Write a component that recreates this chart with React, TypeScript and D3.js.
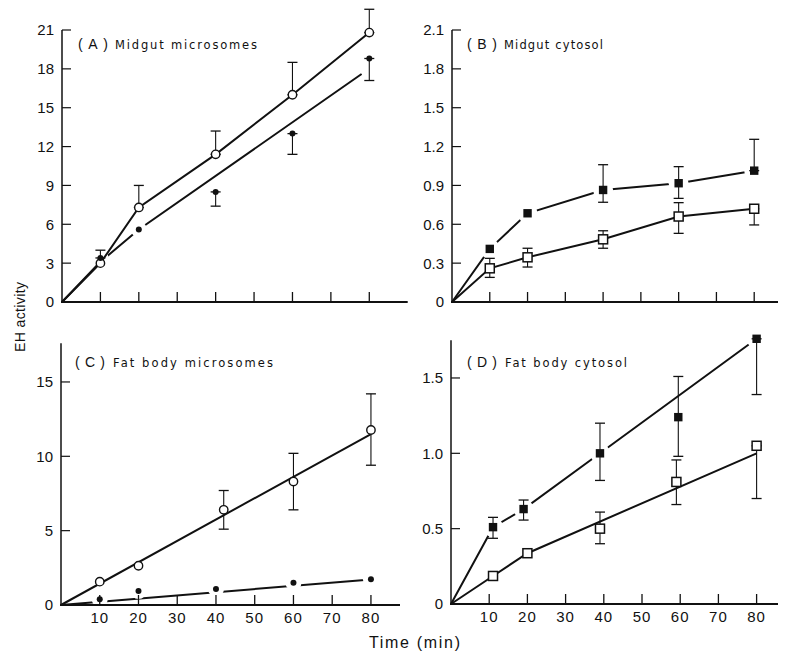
import React from 'react';
import * as d3 from 'd3';

type Pt = [number, number];

// ---------- data ----------
const xTickValues = [10, 20, 30, 40, 50, 60, 70, 80];

// (A) Midgut microsomes
const aTime = [10, 20, 40, 60, 80];
const aOpen = [3.0, 7.3, 11.4, 16.0, 20.8];
const aOpenLo = [3.0, 7.3, 11.4, 16.0, 20.8];
const aOpenHi = [3.0, 9.0, 13.2, 18.5, 22.6];
const aFilled = [3.4, 5.6, 8.5, 13.0, 18.8];
const aFilledLo = [3.4, 5.6, 7.4, 11.4, 17.1];
const aFilledHi = [4.0, 5.6, 8.5, 13.0, 18.8];
const aOpenFit: Pt[] = [[0, 0], [10, 3.0], [20, 7.3], [40, 11.4], [60, 16.0], [80, 20.8]];
const aFilledFit: Pt[] = [[0, 0], [10, 3.1], [20, 5.6], [78, 17.6]];
const aYTicks = [0, 3, 6, 9, 12, 15, 18, 21];

// (B) Midgut cytosol
const bTime = [10, 20, 40, 60, 80];
const bOpen = [0.26, 0.345, 0.484, 0.66, 0.72];
const bOpenLo = [0.19, 0.27, 0.415, 0.53, 0.595];
const bOpenHi = [0.337, 0.415, 0.55, 0.767, 0.72];
const bFilled = [0.41, 0.685, 0.865, 0.917, 1.014];
const bFilledLo = [0.41, 0.685, 0.77, 0.8, 1.014];
const bFilledHi = [0.41, 0.685, 1.06, 1.045, 1.256];
const bOpenFit: Pt[] = [[0, 0], [10, 0.26], [20, 0.345], [40, 0.484], [60, 0.66], [80, 0.72]];
const bFilledFit: Pt[] = [[0, 0], [10, 0.41], [20, 0.685], [40, 0.865], [60, 0.917], [80, 1.014]];
const bYTicks = [0, 0.3, 0.6, 0.9, 1.2, 1.5, 1.8, 2.1];

// (C) Fat body microsomes
const cOpenTime = [10, 20, 42, 60, 80];
const cOpen = [1.57, 2.64, 6.4, 8.3, 11.77];
const cOpenLo = [1.57, 2.64, 5.1, 6.4, 9.4];
const cOpenHi = [1.57, 2.64, 7.7, 10.2, 14.2];
const cFilledTime = [10, 20, 40, 60, 80];
const cFilled = [0.38, 0.94, 1.08, 1.5, 1.73];
const cOpenFit: Pt[] = [[0, 0], [80, 11.5]];
const cFilledFit: Pt[] = [[0, 0], [80, 1.72]];
const cYTicks = [0, 5, 10, 15];

// (D) Fat body cytosol
const dOpenTime = [11, 20, 39, 59, 80];
const dOpen = [0.186, 0.337, 0.5, 0.81, 1.05];
const dOpenLo = [0.186, 0.337, 0.4, 0.66, 0.7];
const dOpenHi = [0.186, 0.337, 0.61, 0.956, 1.05];
const dFilledTime = [11, 19, 39, 59.5, 80];
const dFilled = [0.51, 0.63, 1.0, 1.24, 1.76];
const dFilledLo = [0.436, 0.557, 0.82, 0.98, 1.39];
const dFilledHi = [0.575, 0.69, 1.2, 1.51, 1.76];
const dOpenFit: Pt[] = [[0, 0], [11, 0.186], [20, 0.337], [80, 1.0]];
const dFilledFit: Pt[] = [[0, 0], [11, 0.51], [19, 0.63], [39, 1.0], [80, 1.76]];
const dYTicks = [0, 0.5, 1.0, 1.5];

// ---------- panel options ----------
interface PanelOpts {
  id: string;
  letter: string;
  title: string;
  xDomain: number; xRange: [number, number];
  yDomain: number; yRange: [number, number];
  yTicks: number[];
  yFmt: (v: number) => string;
  topTick: boolean;
  xLabels: boolean;
  marker: 'circle' | 'square';
  openX: number[]; openY: number[]; openLo: number[]; openHi: number[];
  filledX: number[]; filledY: number[]; filledLo: number[]; filledHi: number[];
  openFit: Pt[]; filledFit: Pt[];
  letterX: number; textX: number; textLen: number; titleY: number;
}

const fmtInt = (v: number) => (v === 0 ? '0' : String(v));
const fmt1 = (v: number) => (v === 0 ? '0' : v.toFixed(1));

const panels: PanelOpts[] = [
  {
    id: 'A', letter: '(A)', title: 'Midgut microsomes',
    xDomain: 90, xRange: [62, 407.7], yDomain: 21, yRange: [302, 30],
    yTicks: aYTicks, yFmt: fmtInt, topTick: true, xLabels: false, marker: 'circle',
    openX: aTime, openY: aOpen, openLo: aOpenLo, openHi: aOpenHi,
    filledX: aTime, filledY: aFilled, filledLo: aFilledLo, filledHi: aFilledHi,
    openFit: aOpenFit, filledFit: aFilledFit,
    letterX: 78, textX: 115, textLen: 142, titleY: 49,
  },
  {
    id: 'B', letter: '(B)', title: 'Midgut cytosol',
    xDomain: 86.3, xRange: [452, 778], yDomain: 2.1, yRange: [302, 30],
    yTicks: bYTicks, yFmt: fmt1, topTick: true, xLabels: false, marker: 'square',
    openX: bTime, openY: bOpen, openLo: bOpenLo, openHi: bOpenHi,
    filledX: bTime, filledY: bFilled, filledLo: bFilledLo, filledHi: bFilledHi,
    openFit: bOpenFit, filledFit: bFilledFit,
    letterX: 467, textX: 504, textLen: 99, titleY: 49,
  },
  {
    id: 'C', letter: '(C)', title: 'Fat body microsomes',
    xDomain: 87.5, xRange: [61, 400], yDomain: 17.6, yRange: [605, 343.3],
    yTicks: cYTicks, yFmt: fmtInt, topTick: false, xLabels: true, marker: 'circle',
    openX: cOpenTime, openY: cOpen, openLo: cOpenLo, openHi: cOpenHi,
    filledX: cFilledTime, filledY: cFilled, filledLo: cFilled, filledHi: cFilled,
    openFit: cOpenFit, filledFit: cFilledFit,
    letterX: 75, textX: 113, textLen: 160, titleY: 367,
  },
  {
    id: 'D', letter: '(D)', title: 'Fat body cytosol',
    xDomain: 85.6, xRange: [451, 778], yDomain: 1.75, yRange: [604, 340.3],
    yTicks: dYTicks, yFmt: fmt1, topTick: false, xLabels: true, marker: 'square',
    openX: dOpenTime, openY: dOpen, openLo: dOpenLo, openHi: dOpenHi,
    filledX: dFilledTime, filledY: dFilled, filledLo: dFilledLo, filledHi: dFilledHi,
    openFit: dOpenFit, filledFit: dFilledFit,
    letterX: 467, textX: 505, textLen: 122, titleY: 367,
  },
];

const FONT = '"Liberation Sans", Arial, sans-serif';
const TITLE_FONT = '"DejaVu Sans", "Liberation Sans", sans-serif';

function Panel({ p }: { p: PanelOpts }) {
  const x = d3.scaleLinear().domain([0, p.xDomain]).range(p.xRange);
  const y = d3.scaleLinear().domain([0, p.yDomain]).range(p.yRange);
  const line = d3.line<Pt>().x((d) => x(d[0])).y((d) => y(d[1]));
  const maskId = `gap-${p.id}`;
  const capW = 5;

  const errBars = (xs: number[], lo: number[], hi: number[], key: string) =>
    xs.map((t, i) => {
      if (Math.abs(hi[i] - lo[i]) < 1e-9) return null;
      const cx = x(t);
      const out: React.ReactNode[] = [
        <line key={`${key}v${i}`} x1={cx} x2={cx} y1={y(lo[i])} y2={y(hi[i])} stroke="#111" strokeWidth={1.1} />,
      ];
      out.push(
        <line key={`${key}h${i}`} x1={cx - capW} x2={cx + capW} y1={y(hi[i])} y2={y(hi[i])} stroke="#111" strokeWidth={1.3} />,
      );
      out.push(
        <line key={`${key}l${i}`} x1={cx - capW} x2={cx + capW} y1={y(lo[i])} y2={y(lo[i])} stroke="#111" strokeWidth={1.3} />,
      );
      return out;
    });

  return (
    <g>
      <defs>
        <mask id={maskId} maskUnits="userSpaceOnUse" x={0} y={0} width={785} height={657}>
          <rect x={0} y={0} width={785} height={657} fill="white" />
          {p.filledX.map((t, i) => (
            <circle key={i} cx={x(t)} cy={y(p.filledY[i])} r={p.marker === 'square' ? 10 : 8} fill="black" />
          ))}
        </mask>
      </defs>

      {/* axes */}
      <line x1={x(0)} x2={x(0)} y1={y(0)} y2={y(p.yDomain)} stroke="#111" strokeWidth={1.5} />
      <line x1={x(0) - 1} x2={x(p.xDomain)} y1={y(0)} y2={y(0)} stroke="#111" strokeWidth={1.8} />
      {p.yTicks.map((v) => (
        <g key={`yt${v}`}>
          {v !== 0 && (v !== p.yDomain || p.topTick) && (
            <line x1={x(0)} x2={x(0) + 9} y1={y(v)} y2={y(v)} stroke="#111" strokeWidth={1.2} />
          )}
          <text x={x(0) - 8} y={y(v)} dy="0.36em" textAnchor="end" fontFamily={FONT} fontSize={15} fill="#111">
            {p.yFmt(v)}
          </text>
        </g>
      ))}
      {xTickValues.map((v) => (
        <g key={`xt${v}`}>
          <line x1={x(v)} x2={x(v)} y1={y(0)} y2={y(0) - 10} stroke="#111" strokeWidth={1.3} />
          {p.xLabels && (
            <text x={x(v)} y={y(0) + 18} textAnchor="middle" fontFamily={FONT} fontSize={15} letterSpacing={1} fill="#111">
              {v}
            </text>
          )}
        </g>
      ))}

      {/* title */}
      <text x={p.letterX} y={p.titleY} fontFamily={FONT} fontSize={14} textLength={30} lengthAdjust="spacing" fill="#111">
        {p.letter}
      </text>
      <text x={p.textX} y={p.titleY} fontFamily={TITLE_FONT} fontSize={11.5} textLength={p.textLen} lengthAdjust="spacing" fill="#111">
        {p.title}
      </text>

      {/* fitted lines */}
      <path d={line(p.filledFit) || ''} fill="none" stroke="#111" strokeWidth={2} mask={`url(#${maskId})`} />
      <path d={line(p.openFit) || ''} fill="none" stroke="#111" strokeWidth={2} />

      {/* error bars */}
      {errBars(p.openX, p.openLo, p.openHi, 'o')}
      {errBars(p.filledX, p.filledLo, p.filledHi, 'f')}

      {/* markers */}
      {p.openX.map((t, i) =>
        p.marker === 'circle' ? (
          <circle key={`om${i}`} cx={x(t)} cy={y(p.openY[i])} r={4.2} fill="white" stroke="#111" strokeWidth={1.4} />
        ) : (
          <rect key={`om${i}`} x={x(t) - 4.5} y={y(p.openY[i]) - 4.5} width={9} height={9} fill="white" stroke="#111" strokeWidth={1.5} />
        ),
      )}
      {p.filledX.map((t, i) =>
        p.marker === 'circle' ? (
          <circle key={`fm${i}`} cx={x(t)} cy={y(p.filledY[i])} r={3} fill="#111" />
        ) : (
          <rect key={`fm${i}`} x={x(t) - 4.2} y={y(p.filledY[i]) - 4.2} width={8.4} height={8.4} fill="#111" />
        ),
      )}
    </g>
  );
}

export default function App() {
  return (
    <svg
      width={785}
      height={657}
      viewBox="0 0 785 657"
      style={{ position: 'absolute', left: 0, top: 0, background: 'white' }}
    >
      <rect x={0} y={0} width={785} height={657} fill="white" />
      {panels.map((p) => (
        <Panel key={p.id} p={p} />
      ))}
      <text
        transform="translate(25,317) rotate(-90)"
        textAnchor="middle"
        fontFamily={FONT}
        fontSize={14}
        textLength={70}
        lengthAdjust="spacing"
        fill="#111"
      >
        EH activity
      </text>
      <text x={369} y={648} fontFamily={FONT} fontSize={16} textLength={91} lengthAdjust="spacing" fill="#111">
        Time (min)
      </text>
    </svg>
  );
}
